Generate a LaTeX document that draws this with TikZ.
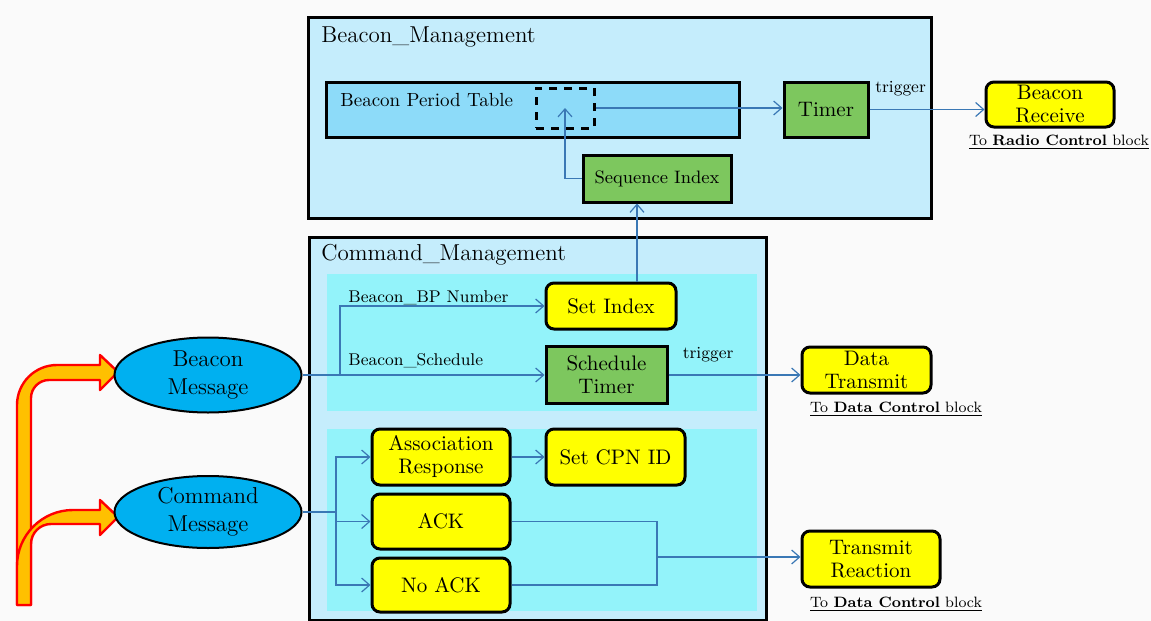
\documentclass[tikz,border=0pt]{standalone}
\usepackage{tikz}
\usetikzlibrary{positioning,shapes,arrows.meta}

\definecolor{mgmtblue}{HTML}{C5EDFC}
\definecolor{tableblue}{HTML}{8DDBF9}
\definecolor{panelcyan}{HTML}{93F3FA}
\definecolor{boxgreen}{HTML}{7DC75E}
\definecolor{boxyellow}{HTML}{FFFF00}
\definecolor{msgblue}{HTML}{00B0F0}
\definecolor{linecol}{HTML}{3A78B5}
\definecolor{arrorange}{HTML}{FFC000}
\definecolor{bgcol}{HTML}{FAFAFA}

\newcommand{\fntbox}{\fontsize{10.5}{11.5}\selectfont}
\newcommand{\fnttable}{\fontsize{9.5}{11}\selectfont}
\newcommand{\fntseq}{\fontsize{9}{10}\selectfont}
\newcommand{\fntmsg}{\fontsize{11.5}{14}\selectfont}
\newcommand{\fnttitle}{\fontsize{11.5}{13}\selectfont}
\newcommand{\fntlbl}{\fontsize{8.5}{10}\selectfont}
\newcommand{\fntto}{\fontsize{7.5}{9}\selectfont}

\begin{document}
\begin{tikzpicture}[x=0.5pt, y=-0.5pt, >={Straight Barb[length=4pt,width=7pt]}]
\tikzset{
    mgmt/.style= {rectangle, draw=black, line width=1.5pt, fill=mgmtblue, inner sep=0pt},
    panel/.style= {rectangle, fill=panelcyan, inner sep=0pt},
    ybox/.style= {rectangle, rounded corners=4pt, draw=black, line width=1.5pt, fill=boxyellow, align=center, font=\fntbox, inner sep=0pt},
    gbox/.style= {rectangle, draw=black, line width=1.5pt, fill=boxgreen, align=center, font=\fntbox, inner sep=0pt},
    msg/.style= {ellipse, draw=black, line width=1pt, fill=msgblue, align=center, font=\fntmsg, inner sep=0pt},
    title/.style= {anchor=west, font=\fnttitle, inner sep=0pt},
    lbl/.style= {anchor=west, font=\fntlbl, inner sep=0pt},
    tolbl/.style= {font=\fntto, inner sep=0pt},
    conn/.style= {->, draw=linecol, line width=0.6pt},
    fatarrow/.style= {draw=red, fill=arrorange, line width=1.2pt, line join=round},
}

\fill[bgcol] (0,0) rectangle (1151,621);
\useasboundingbox (0,0) rectangle (1151,621);

% input arrows
\draw[fatarrow] (17,605) [rounded corners=20pt] -- (17,365) [sharp corners] -- (100,365)
  -- (100,355) -- (118,372) -- (100,390) -- (100,380) [rounded corners=9pt] -- (31,380)
  [sharp corners] -- (31,605) -- cycle;
\draw[fatarrow] (17,605) [rounded corners=28pt] -- (17,510) [sharp corners] -- (100,510)
  -- (100,500) -- (118,517) -- (100,535) -- (100,524) [rounded corners=10pt] -- (31,524)
  [sharp corners] -- (31,605) -- cycle;

% Beacon_Management
\node[mgmt, minimum width=311.5pt, minimum height=100.5pt] (bmgmt) at (619.5,117.5) {};
\node[title] (bmtitle) at (321,37) {Beacon\_Management};
\node[rectangle, draw=black, line width=1.5pt, fill=tableblue, minimum width=206.5pt, minimum height=27.5pt] (bpt) at (532.5,109.5) {};
\node[anchor=west, font=\fnttable, inner sep=0pt] (bpttext) at (340,100) {Beacon Period Table};
\node[rectangle, draw=black, line width=1.5pt, dash pattern=on 4pt off 3.5pt, minimum width=29pt, minimum height=20pt] (dbox) at (565,108) {};
\node[gbox, minimum width=42pt, minimum height=27.5pt] (timer) at (826,109.5) {Timer};
\node[gbox, font=\fntseq, minimum width=74pt, minimum height=23.5pt] (seqidx) at (657,178.5) {Sequence Index};
\node[ybox, minimum width=64pt, minimum height=22.5pt] (brx) at (1050,104.5) {Beacon\\Receive};
\node[tolbl] (radiolbl) at (1059,142) {\underline{To \textbf{Radio Control} block}};

% Command_Management
\node[mgmt, minimum width=228.5pt, minimum height=191.5pt] (cmgmt) at (537.5,428.5) {};
\node[title] (cmtitle) at (321,255) {Command\_Management};
\node[panel, minimum width=215pt, minimum height=68.5pt] (panel1) at (542,342.5) {};
\node[panel, minimum width=215pt, minimum height=91pt] (panel2) at (542,520) {};
\node[ybox, minimum width=65pt, minimum height=23pt] (setidx) at (611,306) {Set Index};
\node[gbox, minimum width=60.5pt, minimum height=28.5pt] (schtimer) at (606.5,375) {Schedule\\Timer};
\node[ybox, minimum width=69pt, minimum height=28pt] (assoc) at (441,457) {Association\\Response};
\node[ybox, minimum width=69.5pt, minimum height=28pt] (cpn) at (615.5,457) {Set CPN ID};
\node[ybox, minimum width=69pt, minimum height=27.5pt] (ack) at (441,521.5) {ACK};
\node[ybox, minimum width=69pt, minimum height=27pt] (nack) at (441,585) {No ACK};
\node[lbl] (bpnum) at (348,298) {Beacon\_BP Number};
\node[lbl] (bsched) at (348,361) {Beacon\_Schedule};

% outputs and messages
\node[ybox, minimum width=64.5pt, minimum height=23pt] (dtx) at (866.5,370) {Data\\Transmit};
\node[tolbl] (datalbl1) at (896,409) {\underline{To \textbf{Data Control} block}};
\node[ybox, minimum width=69pt, minimum height=28pt] (trx) at (871,559) {Transmit\\Reaction};
\node[tolbl] (datalbl2) at (896,604) {\underline{To \textbf{Data Control} block}};
\node[msg, minimum width=93.5pt, minimum height=37.5pt] (bmsg) at (208,375) {Beacon\\Message};
\node[msg, minimum width=93.5pt, minimum height=36pt] (cmsg) at (208,512) {Command\\Message};

\coordinate (bsplit) at (340,375);
\coordinate (csplit) at (336,512);
\coordinate (amerge) at (657,557);

\draw[conn, -] (bmsg.east) -- (bsplit);
\draw[conn] (bsplit) |- (setidx.west);
\draw[conn] (bsplit) -- (schtimer.west);
\draw[conn] (schtimer.east) -- (schtimer.east -| dtx.west)
  node[pos=0.3, above=3pt, font=\fntlbl, text=black] {trigger};
\draw[conn] ([xshift=13pt]setidx.north) -- ([xshift=13pt]setidx.north |- seqidx.south);
\draw[conn] (seqidx.west) -| (dbox.center);
\draw[conn] (dbox.east) -- (dbox.east -| timer.west);
\draw[conn] (timer.east) -- (timer.east -| brx.west)
  node[pos=0.27, above=3pt, font=\fntlbl, text=black] {trigger};

\draw[conn, -] (cmsg.east) -- (csplit);
\draw[conn] (csplit) |- (assoc.west);
\draw[conn] (csplit) |- (ack.west);
\draw[conn] (csplit) |- (nack.west);
\draw[conn] (assoc.east) -- (cpn.west);
\draw[conn, -] (ack.east) -| (amerge);
\draw[conn, -] (nack.east) -| (amerge);
\draw[conn] (amerge) -- (amerge -| trx.west);
\end{tikzpicture}
\end{document}
